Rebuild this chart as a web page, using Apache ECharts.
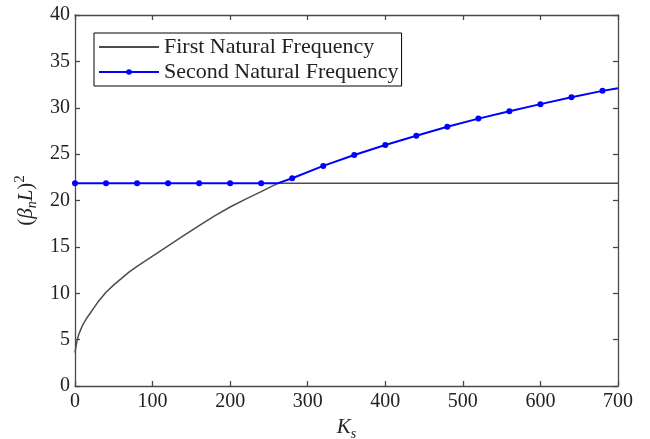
<!DOCTYPE html>
<html>
<head>
<meta charset="utf-8">
<script src="https://cdn.jsdelivr.net/npm/echarts@6/dist/echarts.min.js"></script>
<style>html,body{margin:0;padding:0;background:#fff}#c{width:650px;height:439px}</style>
</head>
<body>
<div id="c"></div>
<script>
// First natural frequency (gray curve)
const firstK   = [0, 1, 2, 3, 5, 7, 10, 15, 20, 25, 30, 40, 50, 60, 70, 80, 100, 120, 140, 160, 180, 200, 220, 240, 262, 700];
const firstVal = [3.6, 4.1, 4.6, 5.0, 5.6, 6.0, 6.6, 7.3, 7.9, 8.5, 9.1, 10.1, 10.9, 11.6, 12.3, 12.9, 14.0, 15.1, 16.2, 17.3, 18.35, 19.3, 20.15, 20.95, 21.87, 21.87];
// Second natural frequency (blue with markers)
const secondK   = [0, 40, 80, 120, 160, 200, 240, 262, 280, 320, 360, 400, 440, 480, 520, 560, 600, 640, 680, 700];
const secondVal = [21.87, 21.87, 21.87, 21.87, 21.87, 21.87, 21.87, 21.87, 22.4, 23.73, 24.91, 25.99, 26.99, 27.96, 28.83, 29.62, 30.39, 31.14, 31.82, 32.11];
const secondMarked = [1, 1, 1, 1, 1, 1, 1, 0, 1, 1, 1, 1, 1, 1, 1, 1, 1, 1, 1, 0];
const xTicks = [0, 100, 200, 300, 400, 500, 600, 700];
const yTicks = [0, 5, 10, 15, 20, 25, 30, 35, 40];
const seriesNames = ['First Natural Frequency', 'Second Natural Frequency'];

const FONT = 'Liberation Serif';
const AX = '#4a4a4a';
const chart = echarts.init(document.getElementById('c'));
function axisCommon() {
  return {
    axisLine: {show: true, onZero: false, lineStyle: {color: AX, width: 1.3}},
    axisTick: {show: true, inside: true, length: 5, lineStyle: {color: AX, width: 1.3}},
    splitLine: {show: false}
  };
}
chart.setOption({
  animation: false,
  backgroundColor: '#fff',
  grid: {left: 75, right: 32, top: 15, bottom: 53, containLabel: false, outerBoundsMode: 'none'},
  legend: {
    orient: 'vertical', left: 94, top: 33,
    data: [
      {name: seriesNames[0], itemStyle: {color: 'rgba(0,0,0,0)', borderWidth: 0, opacity: 0}},
      {name: seriesNames[1]}
    ],
    backgroundColor: '#fff', borderColor: '#000', borderWidth: 1,
    padding: [3, 3, 3, 4],
    itemWidth: 60, itemHeight: 7, itemGap: 3,
    textStyle: {fontFamily: FONT, fontSize: 22, color: '#222', lineHeight: 22}
  },
  xAxis: [
    Object.assign(axisCommon(), {
      type: 'value', min: xTicks[0], max: xTicks[xTicks.length - 1], interval: 100, position: 'bottom',
      axisLabel: {fontFamily: FONT, fontSize: 20, color: '#222', margin: 6},
      name: '{it|K}{sub|s}', nameLocation: 'middle', nameGap: 26,
      nameTextStyle: {rich: {
        it: {fontFamily: FONT, fontStyle: 'italic', fontSize: 21, color: '#222', lineHeight: 26, verticalAlign: 'bottom'},
        sub: {fontFamily: FONT, fontStyle: 'italic', fontSize: 14, color: '#222', lineHeight: 14, verticalAlign: 'bottom', padding: [0, 0, -3, 0]}
      }}
    }),
    Object.assign(axisCommon(), {
      type: 'value', min: 0, max: 700, interval: 100, position: 'top',
      axisLabel: {show: false}
    })
  ],
  yAxis: [
    Object.assign(axisCommon(), {
      type: 'value', min: yTicks[0], max: yTicks[yTicks.length - 1], interval: 5, position: 'left',
      axisLabel: {fontFamily: FONT, fontSize: 20, color: '#222', margin: 5},
      name: '{t|(}{it|β}{sub|n}{it|L}{t|)}{sup|2}', nameLocation: 'middle', nameGap: 36, nameRotate: 90,
      nameMoveOverlap: false,
      nameTextStyle: {rich: {
        t: {fontFamily: FONT, fontSize: 21, color: '#222', lineHeight: 26, verticalAlign: 'middle'},
        it: {fontFamily: FONT, fontStyle: 'italic', fontSize: 21, color: '#222', lineHeight: 26, verticalAlign: 'middle'},
        sub: {fontFamily: FONT, fontStyle: 'italic', fontSize: 14, color: '#222', lineHeight: 14, verticalAlign: 'bottom'},
        sup: {fontFamily: FONT, fontSize: 15, color: '#222', lineHeight: 15, verticalAlign: 'top'}
      }}
    }),
    Object.assign(axisCommon(), {
      type: 'value', min: 0, max: 40, interval: 5, position: 'right',
      axisLabel: {show: false}
    })
  ],
  series: [
    {
      name: seriesNames[0], type: 'line', xAxisIndex: 0, yAxisIndex: 0,
      data: firstK.map((k, i) => [k, firstVal[i]]),
      showSymbol: false, symbol: 'none', smooth: false,
      lineStyle: {color: '#4d4d4d', width: 1.5},
      itemStyle: {color: '#4d4d4d'}
    },
    {
      name: seriesNames[1], type: 'line', xAxisIndex: 0, yAxisIndex: 0,
      data: secondK.map((k, i) => ({value: [k, secondVal[i]], symbol: secondMarked[i] ? 'circle' : 'none'})),
      symbol: 'circle', symbolSize: 6, showAllSymbol: true,
      lineStyle: {color: '#0000ff', width: 2},
      itemStyle: {color: '#0000ff'},
      z: 3
    }
  ]
});
</script>
</body>
</html>
